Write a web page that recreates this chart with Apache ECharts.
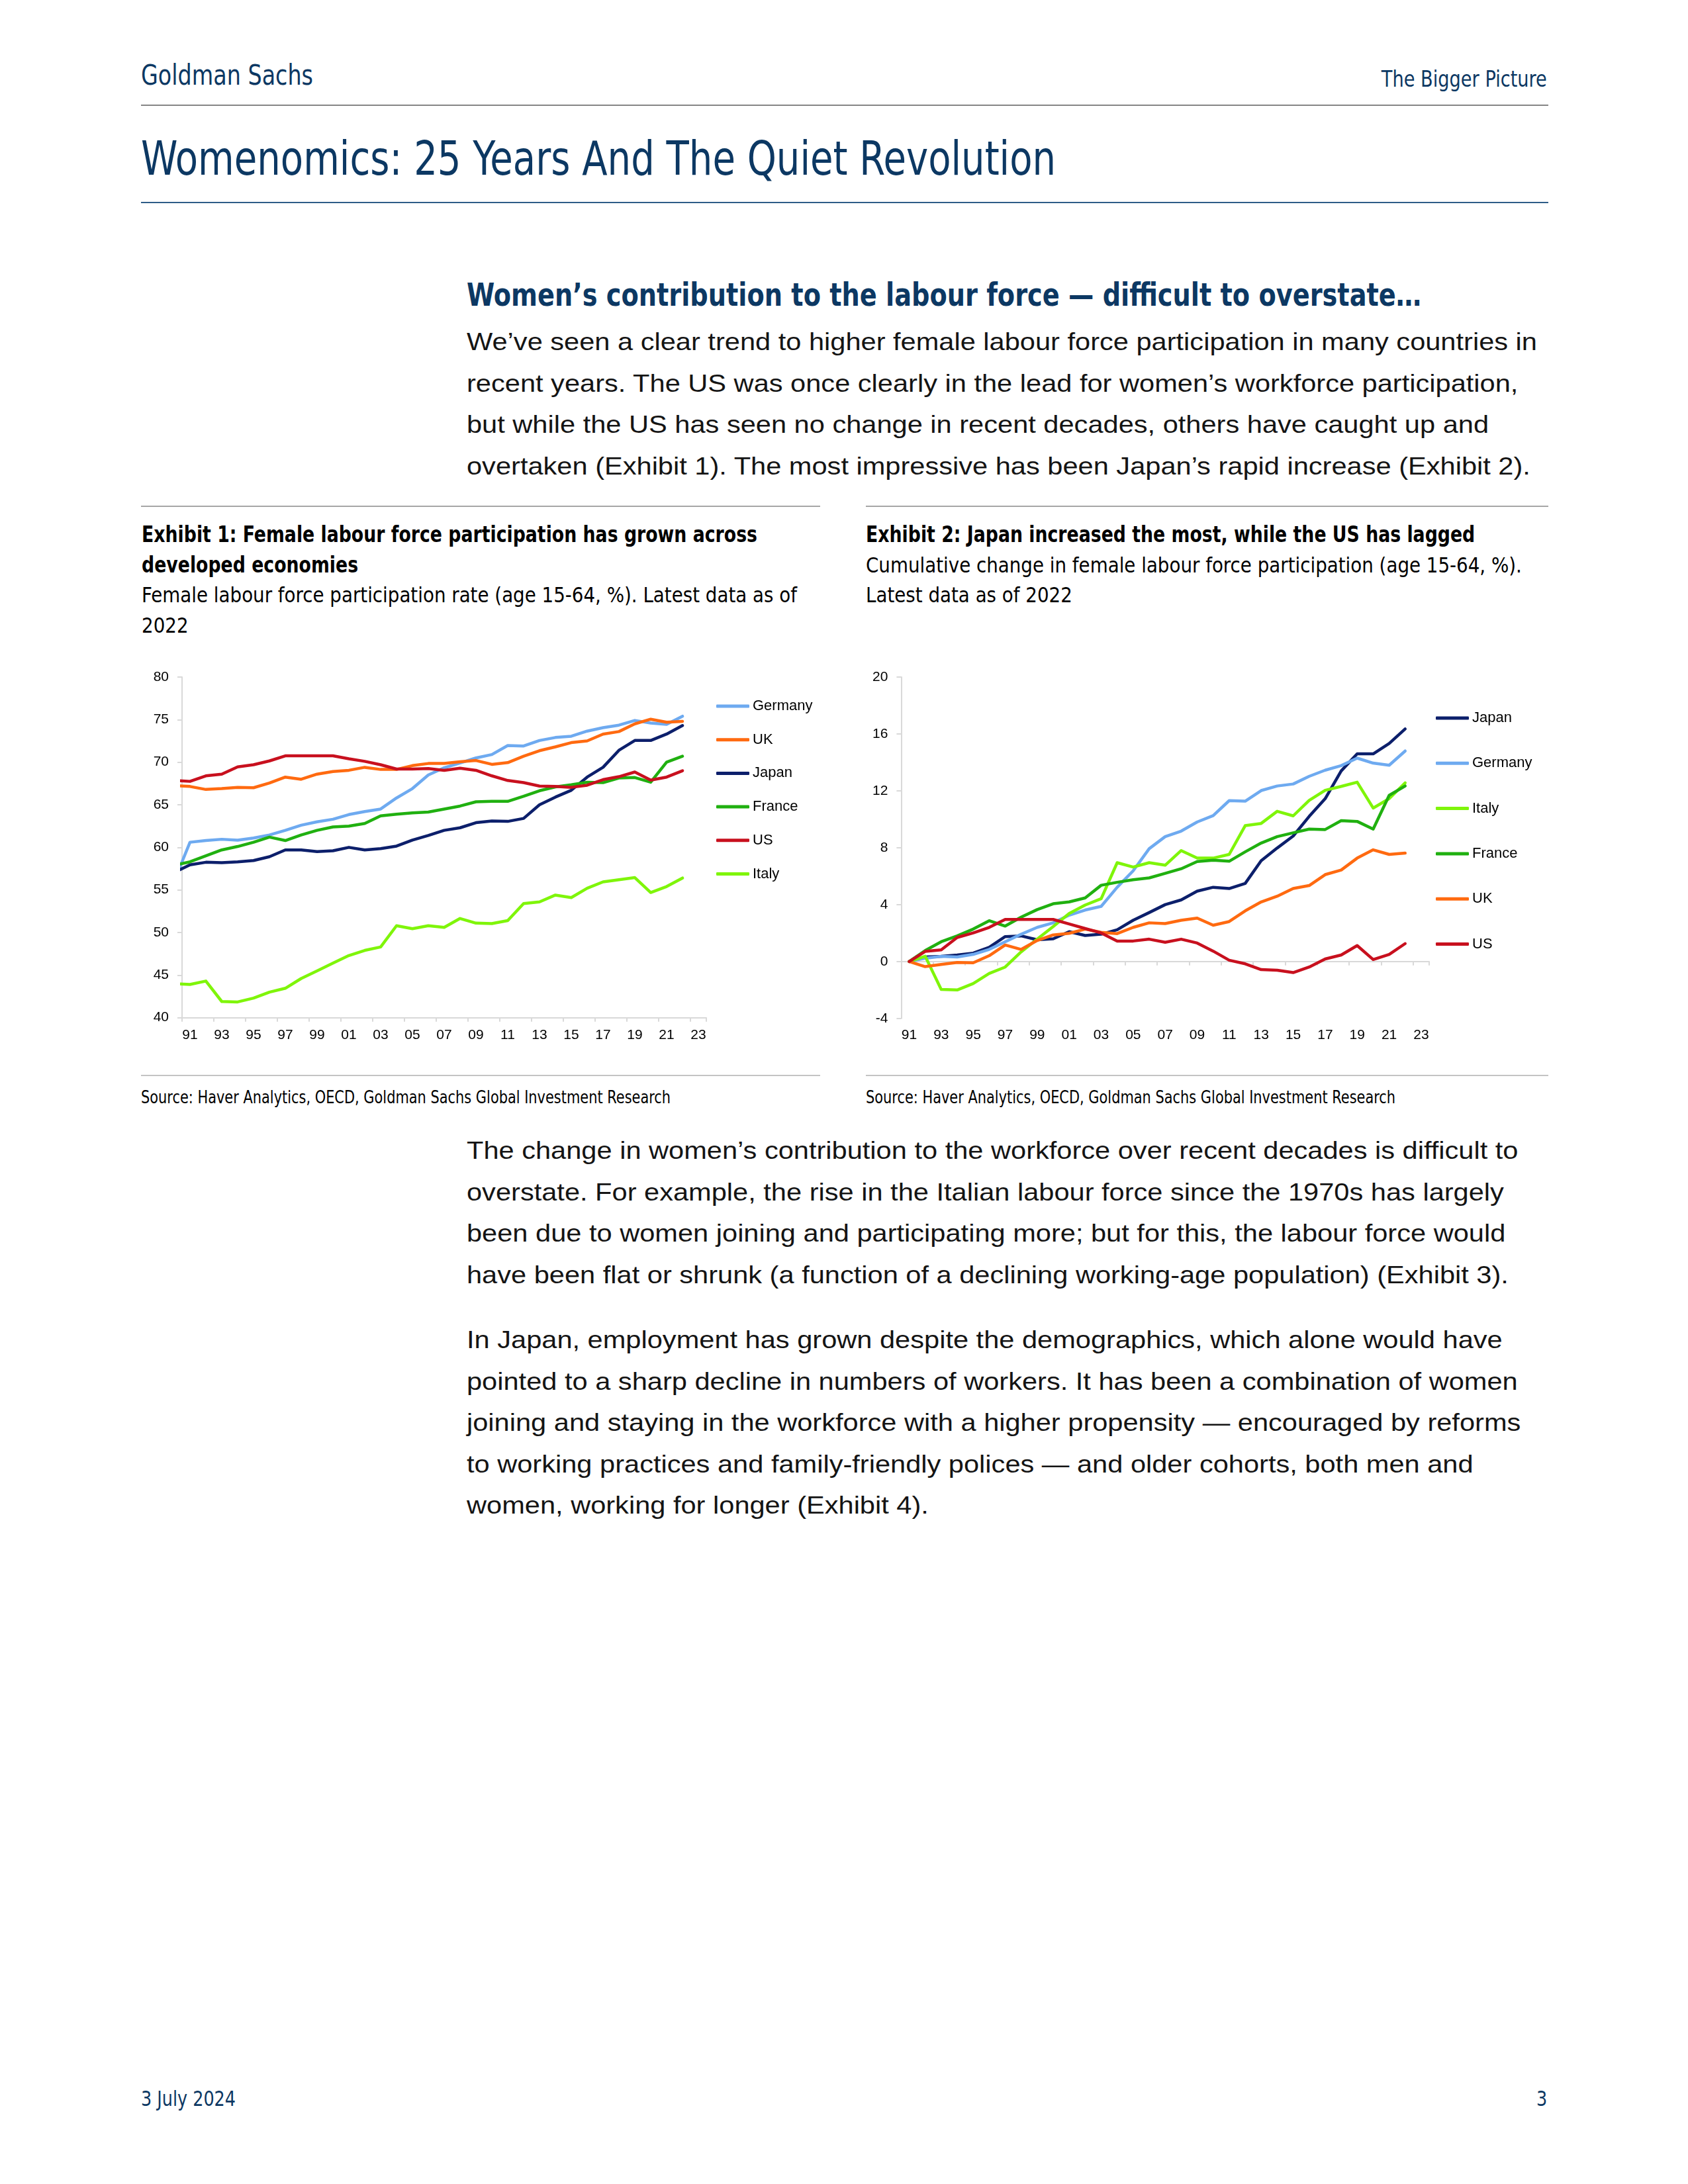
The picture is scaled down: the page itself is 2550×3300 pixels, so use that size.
<!DOCTYPE html>
<html>
<head>
<meta charset="utf-8">
<script src="https://cdn.jsdelivr.net/npm/echarts@6/dist/echarts.min.js"></script>
<style>
html,body{margin:0;padding:0;background:#fff;}
#page{position:relative;width:2550px;height:3300px;overflow:hidden;background:#fff;}
.t{position:absolute;white-space:nowrap;}
.rule{position:absolute;}
</style>
</head>
<body>
<div id="page">
  <div id="c1" style="position:absolute;left:200px;top:980px;width:1050px;height:640px"></div>
  <div id="c2" style="position:absolute;left:1290px;top:980px;width:1050px;height:640px"></div>
</div>
<script>
// ---------------- DATA ----------------
const tickLabels = ['91','92','93','94','95','96','97','98','99','00','01','02','03','04','05','06','07','08','09','10','11','12','13','14','15','16','17','18','19','20','21','22','23'];

// Exhibit 1: female labour force participation rate (age 15-64, %), 1990-2022
const ex1Years = [1990,1991,1992,1993,1994,1995,1996,1997,1998,1999,2000,2001,2002,2003,2004,2005,2006,2007,2008,2009,2010,2011,2012,2013,2014,2015,2016,2017,2018,2019,2020,2021,2022];
const ex1Germany = [56.0,60.6,60.8,60.95,60.85,61.1,61.45,62.0,62.6,63.0,63.3,63.85,64.2,64.5,65.8,66.9,68.5,69.35,69.9,70.5,70.9,71.95,71.9,72.55,72.9,73.05,73.65,74.05,74.35,74.9,74.6,74.45,75.4];
const ex1UK      = [67.25,67.15,66.8,66.9,67.05,67.0,67.55,68.25,68.0,68.6,68.9,69.05,69.4,69.15,69.15,69.6,69.85,69.85,70.05,70.2,69.75,69.95,70.7,71.35,71.8,72.3,72.5,73.3,73.6,74.5,75.05,74.7,74.8];
const ex1Japan   = [57.05,57.95,58.25,58.2,58.3,58.45,58.9,59.7,59.7,59.5,59.6,60.0,59.7,59.85,60.15,60.85,61.4,62.0,62.3,62.9,63.1,63.05,63.4,65.0,65.9,66.7,68.25,69.4,71.4,72.55,72.55,73.3,74.3];
const ex1France  = [57.9,58.3,59.0,59.7,60.1,60.6,61.2,60.8,61.45,62.0,62.4,62.5,62.8,63.7,63.9,64.05,64.15,64.5,64.85,65.35,65.4,65.4,66.0,66.65,67.1,67.35,67.65,67.6,68.15,68.2,67.65,70.0,70.7];
const ex1US      = [67.85,67.75,68.4,68.6,69.45,69.7,70.15,70.75,70.75,70.75,70.75,70.4,70.1,69.7,69.2,69.2,69.25,69.05,69.3,69.05,68.4,67.85,67.6,67.2,67.15,67.05,67.3,67.95,68.3,68.85,67.9,68.25,69.0];
const ex1Italy   = [44.0,43.9,44.3,41.9,41.85,42.3,43.0,43.45,44.6,45.5,46.4,47.3,47.9,48.3,50.8,50.45,50.8,50.6,51.65,51.1,51.05,51.4,53.4,53.6,54.4,54.1,55.2,55.95,56.2,56.45,54.7,55.4,56.4];

// Exhibit 2: cumulative change since 1991 (pp), 1991-2022
const ex2Japan   = [0,0.32,0.36,0.46,0.59,1.0,1.75,1.8,1.53,1.6,2.1,1.83,1.92,2.23,2.9,3.44,4.0,4.33,4.95,5.22,5.13,5.49,7.09,7.98,8.82,10.2,11.45,13.4,14.6,14.6,15.33,16.35];
const ex2Germany = [0,0.23,0.36,0.32,0.5,0.85,1.39,1.92,2.4,2.72,3.26,3.62,3.88,5.22,6.38,7.93,8.78,9.17,9.81,10.26,11.31,11.27,12.02,12.34,12.48,13.02,13.45,13.77,14.3,13.95,13.8,14.8];
const ex2Italy   = [0,0.37,-1.96,-2.0,-1.55,-0.84,-0.39,0.68,1.57,2.46,3.38,3.97,4.42,6.95,6.64,6.95,6.77,7.8,7.27,7.27,7.53,9.55,9.71,10.56,10.24,11.33,12.04,12.31,12.61,10.79,11.45,12.56];
const ex2France  = [0,0.77,1.39,1.8,2.28,2.87,2.49,3.12,3.65,4.06,4.19,4.47,5.36,5.57,5.75,5.88,6.2,6.52,7.03,7.12,7.05,7.71,8.33,8.78,9.05,9.31,9.28,9.9,9.85,9.31,11.68,12.34];
const ex2UK      = [0,-0.36,-0.21,-0.07,-0.09,0.41,1.16,0.85,1.48,1.87,1.98,2.28,2.05,1.96,2.4,2.72,2.67,2.9,3.05,2.55,2.81,3.56,4.19,4.59,5.13,5.34,6.11,6.43,7.27,7.85,7.53,7.62];
const ex2US      = [0,0.71,0.82,1.69,2.01,2.4,2.96,2.96,2.96,2.96,2.64,2.32,2.01,1.44,1.44,1.57,1.35,1.57,1.3,0.73,0.09,-0.16,-0.57,-0.61,-0.78,-0.39,0.18,0.46,1.12,0.14,0.5,1.26];

// ---------------- TEXT ----------------
const NAVY = '#0c3863';
const NARROW = "'Liberation Sans Narrow','DejaVu Sans Condensed','Liberation Sans',Arial,sans-serif";
const BODY = "'Liberation Sans',Arial,sans-serif";
const CHARTFONT = "'Liberation Sans',Arial,sans-serif";

const styles = {
  gs:    {family:NARROW, size:43, weight:400, color:NAVY, fit:260},
  bp:    {family:NARROW, size:33, weight:400, color:NAVY, fit:250},
  title: {family:NARROW, size:71, weight:400, color:NAVY, fit:1382},
  sub:   {family:NARROW, size:48, weight:700, color:NAVY, fit:1442},
  body:  {family:BODY,   size:36, weight:400, color:'#141414', fit:1617},
  exT:   {family:NARROW, size:34, weight:700, color:'#000', fit:930},
  exS:   {family:NARROW, size:32, weight:400, color:'#000', fit:990},
  src:   {family:NARROW, size:26, weight:400, color:'#000', fit:800},
  foot:  {family:NARROW, size:32, weight:400, color:NAVY, fit:143}
};

const lines = [
  {s:'gs', text:'Goldman Sachs', x:213, base:128, ref:true},
  {s:'bp', text:'The Bigger Picture', right:2337, base:131, ref:true},
  {s:'title', text:'Womenomics: 25 Years And The Quiet Revolution', x:213, base:264, ref:true},
  {s:'sub', text:'Women\u2019s contribution to the labour force \u2014 difficult to overstate\u2026', x:705, base:462, ref:true},
  {s:'body', text:'We\u2019ve seen a clear trend to higher female labour force participation in many countries in', x:705, base:529.3, ref:true},
  {s:'body', text:'recent years. The US was once clearly in the lead for women\u2019s workforce participation,', x:705, base:592},
  {s:'body', text:'but while the US has seen no change in recent decades, others have caught up and', x:705, base:654.7},
  {s:'body', text:'overtaken (Exhibit 1). The most impressive has been Japan\u2019s rapid increase (Exhibit 2).', x:705, base:717.4},
  {s:'exT', text:'Exhibit 1: Female labour force participation has grown across', x:214, base:819, ref:true},
  {s:'exT', text:'developed economies', x:214, base:864.6},
  {s:'exS', text:'Female labour force participation rate (age 15-64, %). Latest data as of', x:214, base:910.2, ref:true},
  {s:'exS', text:'2022', x:214, base:955.8},
  {s:'exT', text:'Exhibit 2: Japan increased the most, while the US has lagged', x:1308, base:819},
  {s:'exS', text:'Cumulative change in female labour force participation (age 15-64, %).', x:1308, base:864.6},
  {s:'exS', text:'Latest data as of 2022', x:1308, base:910.2},
  {s:'src', text:'Source: Haver Analytics, OECD, Goldman Sachs Global Investment Research', x:213, base:1667, ref:true},
  {s:'src', text:'Source: Haver Analytics, OECD, Goldman Sachs Global Investment Research', x:1308, base:1667},
  {s:'body', text:'The change in women\u2019s contribution to the workforce over recent decades is difficult to', x:705, base:1751.9},
  {s:'body', text:'overstate. For example, the rise in the Italian labour force since the 1970s has largely', x:705, base:1814.4},
  {s:'body', text:'been due to women joining and participating more; but for this, the labour force would', x:705, base:1876.9},
  {s:'body', text:'have been flat or shrunk (a function of a declining working-age population) (Exhibit 3).', x:705, base:1939.4},
  {s:'body', text:'In Japan, employment has grown despite the demographics, which alone would have', x:705, base:2037.6},
  {s:'body', text:'pointed to a sharp decline in numbers of workers. It has been a combination of women', x:705, base:2100},
  {s:'body', text:'joining and staying in the workforce with a higher propensity \u2014 encouraged by reforms', x:705, base:2162.6},
  {s:'body', text:'to working practices and family-friendly polices \u2014 and older cohorts, both men and', x:705, base:2225},
  {s:'body', text:'women, working for longer (Exhibit 4).', x:705, base:2287.6},
  {s:'foot', text:'3 July 2024', x:213, base:3182, ref:true},
  {s:'foot', text:'3', right:2337, base:3182}
];

const rules = [
  {x:213, y:158, w:2126, h:2, c:'#858585'},
  {x:213, y:305, w:2126, h:2, c:'#2e5d88'},
  {x:213, y:764, w:1026, h:2, c:'#a6a6a6'},
  {x:1308, y:764, w:1031, h:2, c:'#a6a6a6'},
  {x:213, y:1624, w:1026, h:2, c:'#c4c4c4'},
  {x:1308, y:1624, w:1031, h:2, c:'#c4c4c4'}
];

const page = document.getElementById('page');
rules.forEach(r => {
  const d = document.createElement('div');
  d.className = 'rule';
  Object.assign(d.style, {left:r.x+'px', top:r.y+'px', width:r.w+'px', height:r.h+'px', background:r.c});
  page.appendChild(d);
});

const scales = {};
const made = lines.map(l => {
  const st = styles[l.s];
  const d = document.createElement('div');
  d.className = 't';
  d.textContent = l.text;
  Object.assign(d.style, {
    fontFamily: st.family, fontSize: st.size+'px', lineHeight: st.size+'px',
    fontWeight: st.weight, color: st.color, top: (l.base - 0.8465*st.size)+'px'
  });
  if (l.right != null) { d.style.right = (2550 - l.right)+'px'; d.style.transformOrigin = 'right center'; }
  else { d.style.left = l.x+'px'; d.style.transformOrigin = 'left center'; }
  page.appendChild(d);
  if (l.ref) { scales[l.s] = st.fit / d.getBoundingClientRect().width; }
  return {d, l};
});
made.forEach(({d, l}) => {
  const k = scales[l.s] || 1;
  d.style.transform = 'scaleX(' + k.toFixed(4) + ')';
});

// ---------------- CHARTS ----------------
const AXIS = '#d9d9d9';
const COLORS = {Germany:'#6eaaf0', UK:'#ff6a10', Japan:'#0c1f6b', France:'#20b010', US:'#c8101e', Italy:'#7ff50a'};

function mkSeries(name, data, xIdx) {
  return {
    name, type:'line', data, xAxisIndex:xIdx, yAxisIndex:0,
    showSymbol:false, symbol:'none', clip:true, color:COLORS[name],
    lineStyle:{color:COLORS[name], width:4.5, cap:'round', join:'round'},
    emphasis:{disabled:true}
  };
}
function legendCfg(names, left, top, gap) {
  return {
    orient:'vertical', left, top, padding:0, itemWidth:50, itemHeight:5, itemGap:gap,
    icon:'roundRect', selectedMode:false, data:names,
    textStyle:{fontSize:22, color:'#000', fontFamily:CHARTFONT, lineHeight:24}
  };
}
const yAxisBase = (min, max, interval) => ({
  type:'value', min, max, interval,
  axisLine:{show:true, lineStyle:{color:AXIS, width:2}},
  axisTick:{show:true, length:7, lineStyle:{color:AXIS, width:2}},
  axisLabel:{color:'#000', fontSize:21, fontFamily:CHARTFONT, margin:20},
  splitLine:{show:false}
});

// Exhibit 1 — data placed mid-year on a hidden value axis; clipped at plot edge
const toX1 = (vals) => vals.map((v, i) => [ex1Years[i] - 1991 + 0.5, v]);
const chart1 = echarts.init(document.getElementById('c1'));
chart1.setOption({
  animation:false,
  grid:{left:75, top:43, width:792, height:514.7},
  xAxis:[
    {type:'category', data:tickLabels, boundaryGap:true, position:'bottom',
     axisLine:{show:true, lineStyle:{color:AXIS, width:2}},
     axisTick:{show:true, interval:1, length:6, lineStyle:{color:AXIS, width:2}},
     axisLabel:{interval:1, color:'#000', fontSize:21, fontFamily:CHARTFONT, margin:16},
     splitLine:{show:false}},
    {type:'value', min:0, max:33, show:false}
  ],
  yAxis:[yAxisBase(40, 80, 5)],
  legend:legendCfg(['Germany','UK','Japan','France','US','Italy'], 882, 75, 26.7),
  series:[
    mkSeries('Germany', toX1(ex1Germany), 1),
    mkSeries('UK', toX1(ex1UK), 1),
    mkSeries('Japan', toX1(ex1Japan), 1),
    mkSeries('France', toX1(ex1France), 1),
    mkSeries('US', toX1(ex1US), 1),
    mkSeries('Italy', toX1(ex1Italy), 1)
  ]
});

// Exhibit 2 — labels at the bottom, axis line/ticks on zero
const chart2 = echarts.init(document.getElementById('c2'));
chart2.setOption({
  animation:false,
  grid:{left:71.4, top:43, width:797.6, height:515.8},
  xAxis:[
    {type:'category', data:tickLabels, boundaryGap:true, position:'bottom',
     axisLine:{show:false, onZero:false}, axisTick:{show:false},
     axisLabel:{interval:1, color:'#000', fontSize:21, fontFamily:CHARTFONT, margin:15},
     splitLine:{show:false}},
    {type:'category', data:tickLabels, boundaryGap:true, position:'bottom',
     axisLine:{show:true, onZero:true, lineStyle:{color:AXIS, width:2}},
     axisTick:{show:true, interval:1, length:6, lineStyle:{color:AXIS, width:2}},
     axisLabel:{show:false}, splitLine:{show:false}}
  ],
  yAxis:[yAxisBase(-4, 20, 4)],
  legend:legendCfg(['Japan','Germany','Italy','France','UK','US'], 879, 93, 44.3),
  series:[
    mkSeries('Japan', ex2Japan, 0),
    mkSeries('Germany', ex2Germany, 0),
    mkSeries('Italy', ex2Italy, 0),
    mkSeries('France', ex2France, 0),
    mkSeries('UK', ex2UK, 0),
    mkSeries('US', ex2US, 0)
  ]
});
</script>
</body>
</html>
